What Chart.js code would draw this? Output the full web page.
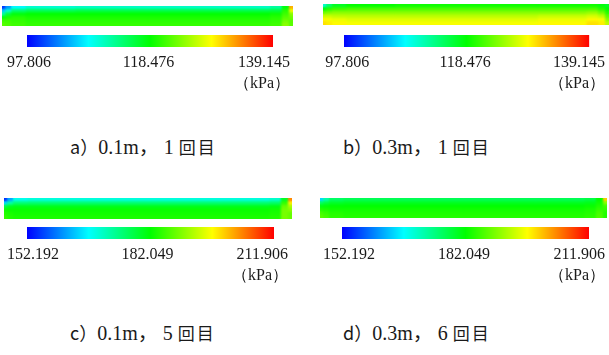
<!DOCTYPE html>
<html>
<head>
<meta charset="utf-8">
<script src="https://cdn.jsdelivr.net/npm/chart.js@4/dist/chart.umd.min.js"></script>
<style>
    html, body { margin: 0; padding: 0; background: #fff; }
    body { position: relative; width: 609px; height: 355px; overflow: hidden; }
    canvas { position: absolute; }
    .cap { position: absolute; line-height: 24px; white-space: pre; color: #1a1a1a; }
    .cap .tag { font-family: "Noto Sans CJK JP", sans-serif; font-size: 18px; }
    .cap .num { font-family: "Liberation Serif", serif; font-size: 20px; }
    .cap .jp { font-family: "Noto Sans CJK JP", sans-serif; font-size: 17px; letter-spacing: 2px; }
    .cap .comma { font-family: "Noto Sans CJK JP", sans-serif; font-size: 20px; }
</style>
</head>
<body>
<canvas id="stripA"></canvas>
<canvas id="stripB"></canvas>
<canvas id="stripC"></canvas>
<canvas id="stripD"></canvas>
<canvas id="barA"></canvas>
<canvas id="barB"></canvas>
<canvas id="barC"></canvas>
<canvas id="barD"></canvas>
<div class="cap" id="capA"></div>
<div class="cap" id="capB"></div>
<div class="cap" id="capC"></div>
<div class="cap" id="capD"></div>

<script>
// 管長方向の区間長（全長=1）
const SEG_LENGTHS = [0.01, 0.02, 0.05, 0.17, 0.25, 0.25, 0.17, 0.04, 0.025, 0.015];
const ROW_LABELS = ['r1', 'r2', 'r3', 'r4', 'r5', 'r6'];

// 圧力 (kPa)  上端 -> 下端
const PRESS_A = [
    [100, 104, 108, 110, 110.5, 110.5, 110.5, 112, 118, 132],
    [106, 110, 114, 115, 115.5, 115.5, 115.5, 116, 120, 128],
    [112, 116, 118, 118.5, 118.5, 118.5, 118.5, 119, 121, 124],
    [118, 119.5, 120, 119.5, 119.5, 119.5, 119.5, 120, 122, 123],
    [121, 121, 120.5, 120, 120, 120, 120, 120.5, 123, 122],
    [122, 121.5, 121, 120.5, 120.5, 120.5, 120.5, 121, 124, 122]
];
const PRESS_B = [
    [110, 114, 117, 118.5, 119, 119, 119, 119, 118, 117],
    [118, 120, 121, 121.5, 121.5, 121.5, 121.5, 121.5, 120, 118.5],
    [123, 123.5, 124, 124, 124, 124, 124, 124.5, 123, 120],
    [126.5, 126.5, 126, 126, 126, 126, 126.5, 127, 126, 122],
    [129, 128.5, 128, 127.5, 127.5, 127.5, 128, 129, 128.5, 124],
    [130, 129.5, 129, 128.5, 128.5, 128.5, 129, 130, 129.5, 126]
];
const PRESS_C = [
    [155, 162, 168, 169, 169, 169, 169, 170, 180, 204],
    [165, 172, 175, 175.5, 175.5, 175.5, 175.5, 176, 185, 198],
    [178, 180, 180.5, 180.5, 180.5, 180.5, 180.5, 181, 188, 192],
    [183, 182.5, 182.5, 182.5, 182.5, 182.5, 182.5, 183, 189, 190],
    [184, 183.5, 183, 183, 183, 183, 183, 183.5, 189, 188],
    [185, 184, 183.5, 183.5, 183.5, 183.5, 183.5, 184, 189, 188]
];
const PRESS_D = [
    [165, 172, 176, 177, 177, 177, 177, 178, 182, 200],
    [176, 178, 179.5, 180, 180, 180, 180, 180.5, 183, 190],
    [181, 181.5, 182, 182, 182, 182, 182, 182.5, 184, 186],
    [184, 183.5, 183, 183, 183, 183, 183, 183.5, 185, 185],
    [186, 185, 184, 183.5, 183.5, 183.5, 183.5, 184, 186, 184],
    [187, 186, 184.5, 184, 184, 184, 184, 184.5, 186.5, 184]
];

const RANGE_AB = [97.806, 139.145];
const RANGE_CD = [152.192, 211.906];
const TICKS_AB = [97.806, 118.476, 139.145];
const TICKS_CD = [152.192, 182.049, 211.906];
const UNIT = '（kPa）';

const PANEL_TAGS = ['a）', 'b）', 'c）', 'd）'];
const PANEL_DEPTH = ['0.1m', '0.3m', '0.1m', '0.3m'];
const PANEL_RUN = ['1', '1', '5', '6'];

// jet カラーマップ
const JET_STOPS = [
    [0, [0, 0, 255]],
    [0.25, [0, 255, 255]],
    [0.5, [0, 255, 0]],
    [0.75, [255, 255, 0]],
    [1, [255, 0, 0]]
];

function jetColor(t) {
    t = Math.max(0, Math.min(1, t));
    for (let i = 1; i < JET_STOPS.length; i++) {
        const [t1, c1] = JET_STOPS[i];
        const [t0, c0] = JET_STOPS[i - 1];
        if (t <= t1) {
            const k = (t - t0) / (t1 - t0);
            const c = c0.map((v, j) => Math.round(v + (c1[j] - v) * k));
            return 'rgb(' + c.join(',') + ')';
        }
    }
    return 'rgb(255,0,0)';
}

Chart.defaults.animation = false;
Chart.defaults.font.family = '"Liberation Serif", serif';

// 帯の境界をなじませる
const smoothPlugin = {
    id: 'smooth',
    afterDatasetsDraw(chart) {
        const { ctx, canvas, chartArea: a } = chart;
        const tmp = document.createElement('canvas');
        tmp.width = canvas.width;
        tmp.height = canvas.height;
        tmp.getContext('2d').drawImage(canvas, 0, 0);
        ctx.save();
        ctx.beginPath();
        ctx.rect(a.left, a.top, a.width, a.height);
        ctx.clip();
        ctx.filter = 'blur(1.3px)';
        ctx.drawImage(tmp, 0, 0);
        ctx.restore();
    }
};

function placeCanvas(id, box) {
    const canvas = document.getElementById(id);
    canvas.width = box.w;
    canvas.height = box.h;
    canvas.style.left = box.x + 'px';
    canvas.style.top = box.y + 'px';
    return canvas;
}

function initStrip(id, box, press, range) {
    const canvas = placeCanvas(id, box);
    const total = SEG_LENGTHS.reduce((s, v) => s + v, 0);

    const datasets = SEG_LENGTHS.map((len, j) => ({
        data: ROW_LABELS.map(() => len),
        backgroundColor: press.map(row => jetColor((row[j] - range[0]) / (range[1] - range[0]))),
        borderWidth: 0,
        barPercentage: 1,
        categoryPercentage: 1
    }));

    new Chart(canvas.getContext('2d'), {
        type: 'bar',
        data: { labels: ROW_LABELS, datasets: datasets },
        options: {
            indexAxis: 'y',
            responsive: false,
            devicePixelRatio: 1,
            layout: { padding: 0 },
            plugins: { legend: { display: false }, tooltip: { enabled: false } },
            scales: {
                x: { type: 'linear', stacked: true, min: 0, max: total, display: false },
                y: { stacked: true, display: false }
            }
        },
        plugins: [smoothPlugin]
    });
}

function initColorBar(id, box, range, ticks) {
    const canvas = placeCanvas(id, box);
    const barLeft = box.barL - box.x;
    const barRight = box.barR - box.x;
    // 目盛り文字は左端/右端にそろえる
    const q = (range[1] - range[0]) / (box.labR - box.labL);

    new Chart(canvas.getContext('2d'), {
        type: 'bar',
        data: {
            labels: [''],
            datasets: [{
                data: [range],
                xAxisID: 'x',
                borderWidth: 0,
                barPercentage: 1,
                categoryPercentage: 1,
                backgroundColor(context) {
                    const chart = context.chart;
                    if (!chart.chartArea) {
                        return null;
                    }
                    const xs = chart.scales.x;
                    const g = chart.ctx.createLinearGradient(
                        xs.getPixelForValue(range[0]), 0, xs.getPixelForValue(range[1]), 0);
                    JET_STOPS.forEach(s => g.addColorStop(s[0], 'rgb(' + s[1].join(',') + ')'));
                    return g;
                }
            }]
        },
        options: {
            indexAxis: 'y',
            responsive: false,
            devicePixelRatio: 1,
            layout: {
                padding: { left: barLeft, right: box.w - barRight, top: box.barT - box.y, bottom: 0 }
            },
            plugins: { legend: { display: false }, tooltip: { enabled: false } },
            scales: {
                x: { type: 'linear', min: range[0], max: range[1], display: false },
                xt: {
                    type: 'linear',
                    position: 'bottom',
                    bounds: 'data',
                    min: range[0] + (box.barL - box.labL) * q,
                    max: range[1] - (box.labR - box.barR) * q,
                    grid: { display: false, drawTicks: false },
                    border: { display: false },
                    afterBuildTicks(scale) {
                        scale.ticks = ticks.map(v => ({ value: v }));
                    },
                    afterFit(scale) {
                        scale.height = box.h - (box.barT - box.y) - box.barH;
                    },
                    ticks: {
                        autoSkip: false,
                        maxRotation: 0,
                        align: 'inner',
                        padding: 5,
                        color: '#1a1a1a',
                        font: { size: 16, lineHeight: 1.33 },
                        callback(value, index) {
                            const text = value.toFixed(3);
                            return index === ticks.length - 1 ? [text, UNIT] : text;
                        }
                    }
                },
                y: { display: false }
            }
        }
    });
}

function setCaption(id, i, pos) {
    const el = document.getElementById(id);
    el.style.left = pos.x + 'px';
    el.style.top = pos.y + 'px';
    el.innerHTML = '<span class="tag">' + PANEL_TAGS[i] + '</span>' +
        '<span class="num">' + PANEL_DEPTH[i] + '</span>' +
        '<span class="comma">，</span>' +
        '<span class="num"> ' + PANEL_RUN[i] + ' </span>' +
        '<span class="jp">回目</span>';
}

initStrip('stripA', { x: 2, y: 6, w: 291, h: 20 }, PRESS_A, RANGE_AB);
initStrip('stripB', { x: 323, y: 4, w: 286, h: 21 }, PRESS_B, RANGE_AB);
initStrip('stripC', { x: 4, y: 198, w: 288, h: 21 }, PRESS_C, RANGE_CD);
initStrip('stripD', { x: 320, y: 198, w: 287, h: 20 }, PRESS_D, RANGE_CD);

initColorBar('barA', { x: 0, y: 30, w: 300, h: 70, barL: 27, barR: 273, barT: 35, barH: 12, labL: 7, labR: 290 }, RANGE_AB, TICKS_AB);
initColorBar('barB', { x: 309, y: 30, w: 300, h: 70, barL: 344, barR: 592, barT: 35, barH: 12, labL: 325, labR: 608 }, RANGE_AB, TICKS_AB);
initColorBar('barC', { x: 0, y: 222, w: 300, h: 70, barL: 27, barR: 274, barT: 227, barH: 12, labL: 7, labR: 288 }, RANGE_CD, TICKS_CD);
initColorBar('barD', { x: 309, y: 222, w: 300, h: 70, barL: 342, barR: 589, barT: 227, barH: 12, labL: 323, labR: 605 }, RANGE_CD, TICKS_CD);

setCaption('capA', 0, { x: 70, y: 134 });
setCaption('capB', 1, { x: 343, y: 134 });
setCaption('capC', 2, { x: 70, y: 320 });
setCaption('capD', 3, { x: 343, y: 320 });
</script>
</body>
</html>
